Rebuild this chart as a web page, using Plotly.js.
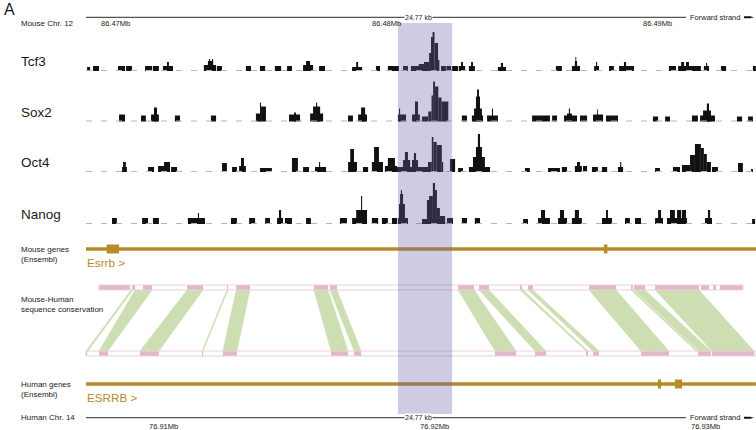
<!DOCTYPE html>
<html><head><meta charset="utf-8">
<script src="https://cdn.plot.ly/plotly-3.0.1.min.js"></script>
<style>html,body{margin:0;padding:0;background:#fff}#chart{width:756px;height:430px}</style>
</head><body><div id="chart"></div>
<script>
// ---------------- DATA (positions in kb; mouse relative to 86.47 Mb, human relative to 76.91 Mb) -------------
const mouseTickKb = [0, 10, 20];
const mouseTickText = ['86.47Mb', '86.48Mb', '86.49Mb'];
const humanTickKb = [0, 10, 20];
const humanTickText = ['76.91Mb', '76.92Mb', '76.93Mb'];
const regionSizeText = '24.77 kb';
const trackNames = ['Tcf3', 'Sox2', 'Oct4', 'Nanog'];
const highlightKb = [11.03, 13.03];

// ChIP-seq signal segments: [start kb, end kb, height]
const tcf3 = [[-0.44,-0.33,4],[-0.22,0.00,5],[0.70,0.96,5],[1.00,1.22,5],[1.70,1.96,5],[1.99,2.21,5],[2.36,2.73,5],[2.51,2.58,9],[3.87,4.32,6],[4.02,4.21,10],[4.06,4.10,12],[4.17,4.21,12],[4.35,4.54,5],[5.42,5.61,5],[5.94,6.13,5],[6.49,6.72,5],[6.94,7.12,5],[7.53,7.90,6],[7.64,7.79,10],[8.12,8.34,5],[9.34,9.71,4],[9.49,9.56,9],[10.22,10.37,5],[10.66,11.07,5],[11.22,11.40,5],[11.51,11.99,5],[11.80,11.99,7],[11.99,12.18,9],[12.18,12.25,18],[12.25,12.34,34],[12.31,12.38,39],[12.38,12.51,28],[12.51,12.56,11],[12.62,12.80,5],[12.82,12.99,5],[13.03,13.25,5],[13.28,13.51,5],[13.36,13.43,9],[13.65,13.87,5],[13.73,13.80,9],[14.72,15.02,4],[14.83,14.91,8],[16.86,17.08,5],[17.45,17.75,5],[17.56,17.64,10],[17.58,17.61,14],[18.27,18.45,5],[18.34,18.38,9],[18.82,19.00,5],[19.19,19.74,5],[19.37,19.45,9],[21.03,21.29,5],[21.37,22.21,5],[21.48,21.59,9],[21.66,21.77,9],[22.32,22.51,5],[22.40,22.44,8],[22.95,23.14,5],[24.13,24.24,5]];
const sox2 = [[0.74,0.96,7],[1.55,1.73,6],[1.92,2.21,7],[2.03,2.14,14],[2.80,2.99,6],[4.13,4.32,6],[5.79,5.98,8],[5.98,6.16,15],[5.94,5.98,19],[7.01,7.42,7],[7.20,7.27,9],[7.79,8.27,8],[7.90,8.16,15],[8.01,8.05,19],[9.19,9.37,6],[9.56,9.89,7],[9.67,9.82,14],[11.03,11.33,7],[11.07,11.11,13],[11.55,11.84,7],[11.66,11.77,20],[11.92,12.14,5],[12.15,12.27,10],[12.27,12.33,26],[12.33,12.40,40],[12.40,12.52,35],[12.52,12.64,24],[12.64,12.89,20],[13.39,13.58,6],[13.76,14.17,6],[13.84,14.13,13],[13.91,14.06,25],[13.95,14.02,32],[14.32,14.72,6],[14.50,14.54,13],[15.98,16.64,6],[16.72,16.90,6],[17.16,17.64,6],[17.27,17.45,8],[17.34,17.38,13],[17.75,18.01,6],[18.23,18.60,7],[18.38,18.41,12],[18.71,19.15,6],[20.44,20.63,5],[20.89,21.07,5],[21.88,22.10,6],[22.18,22.73,6],[22.29,22.58,11],[22.43,22.51,18],[23.54,23.73,5],[23.95,24.13,5]];
const oct4 = [[0.85,1.03,5],[0.89,0.99,10],[1.81,2.03,5],[2.18,2.40,6],[2.40,2.62,10],[2.66,2.88,5],[4.54,4.72,9],[4.91,5.09,5],[5.17,5.42,6],[5.24,5.35,14],[5.94,6.38,4],[7.12,7.34,14],[7.53,7.75,5],[7.97,8.38,5],[8.12,8.16,10],[9.19,9.52,10],[9.27,9.41,23],[9.74,9.93,5],[10.07,10.48,10],[10.15,10.33,25],[10.55,11.00,6],[10.66,10.92,14],[11.00,11.92,5],[11.22,11.48,12],[11.29,11.40,20],[11.55,11.77,12],[11.62,11.70,19],[11.92,12.14,5],[12.14,12.28,10],[12.28,12.34,35],[12.34,12.46,30],[12.46,12.65,27],[12.65,12.70,10],[12.95,13.14,13],[13.25,13.43,4],[13.65,14.43,5],[13.80,14.24,15],[13.91,14.13,25],[13.98,14.06,38],[15.72,15.90,4],[16.57,17.01,4],[17.08,17.27,5],[17.56,17.82,6],[17.64,17.75,10],[17.86,18.01,6],[18.19,18.41,5],[18.56,18.75,5],[19.15,19.34,5],[19.23,19.27,10],[20.52,20.70,4],[21.18,21.44,5],[21.51,21.81,7],[21.81,21.99,17],[21.99,22.21,28],[22.21,22.32,24],[22.32,22.43,18],[22.43,22.58,10],[22.62,22.84,5],[23.58,23.76,9],[24.06,24.13,3]];
const nanog = [[0.48,0.66,6],[1.59,1.81,6],[1.99,2.21,6],[3.28,3.91,6],[3.65,3.69,11],[4.87,5.09,6],[5.54,5.76,6],[6.13,6.31,6],[6.57,6.79,6],[6.64,6.72,14],[6.86,7.12,6],[7.64,7.82,6],[8.89,9.15,6],[9.34,9.89,6],[9.49,9.89,14],[9.67,9.71,28],[10.07,10.30,6],[10.44,10.66,6],[10.81,11.00,6],[11.03,11.40,6],[11.07,11.29,20],[11.11,11.22,30],[11.14,11.18,34],[11.92,12.77,5],[12.10,12.25,24],[12.18,12.32,28],[12.32,12.40,41],[12.40,12.47,34],[12.47,12.58,16],[12.58,12.77,8],[12.84,13.06,6],[13.39,13.58,6],[13.87,14.06,6],[15.65,15.83,5],[16.20,16.64,6],[16.31,16.46,14],[16.94,17.27,6],[17.01,17.16,14],[17.45,17.82,6],[17.56,17.71,14],[18.56,18.93,6],[18.71,18.78,14],[19.41,19.59,6],[19.78,20.00,6],[20.52,20.81,6],[20.63,20.74,14],[20.96,21.70,6],[21.07,21.25,14],[21.33,21.48,14],[21.51,21.66,14],[22.36,22.62,6],[22.47,22.55,14],[24.10,24.21,5]];

// Genes: span [start,end] (clipped to view) and exons [start,end]
const mouseGeneSpan = [-0.48, 24.29];
const mouseExons = [[0.28, 0.74], [18.63, 18.76]];
const mouseGeneName = 'Esrrb >';
const humanGeneSpan = [-2.25, 22.47];
const humanExons = [[18.85, 18.97], [19.48, 19.74]];
const humanGeneName = 'ESRRB >';

// Conservation: aligned blocks (mouse kb, human kb)
const mouseConsSpan = [0.00, 23.76];
const humanConsSpan = [-2.25, 22.47];
const mouseConsBlocks = [[0,1.14],[1.22,1.33],[1.62,1.96],[3.25,3.84],[4.72,4.76],[5.06,5.57],[7.93,8.45],[8.52,8.78],[13.25,13.84],[14.02,14.39],[15.54,15.61],[15.83,16.01],[18.08,19.08],[19.63,19.70],[19.74,20.15],[20.52,22.14],[22.21,22.51],[22.66,22.77],[22.91,23.76]];
const humanConsBlocks = [[-2.25,-2.21],[-1.77,-1.44],[-0.26,0.44],[2.03,2.07],[2.80,3.32],[6.79,7.42],[7.64,7.90],[12.84,13.62],[14.32,14.72],[16.20,16.27],[16.46,16.68],[18.23,19.26],[20.33,20.81],[20.85,22.40]];
// links: [mouse start, mouse end, human start, human end]
const consLinks = [[1.18,1.25,-2.25,-2.18],[1.33,1.96,-1.77,-1.44],[3.25,3.84,-0.26,0.44],[4.72,4.76,2.03,2.07],[5.06,5.57,2.80,3.32],[7.93,8.45,6.79,7.42],[8.52,8.78,7.64,7.90],[13.25,13.84,12.84,13.62],[14.02,14.39,14.32,14.72],[15.54,15.65,16.20,16.27],[15.83,16.01,16.46,16.68],[18.08,19.08,18.23,19.26],[19.63,19.70,20.26,20.33],[19.74,20.15,20.37,20.81],[20.52,22.14,20.85,22.40]];

// ---------------- LAYOUT CONSTANTS -------------
const W = 756, H = 430;
const PX_PER_KB = 27.1, MOUSE_ORIGIN_PX = 99, HUMAN_ORIGIN_PX = 147;
const mouseRange = [-MOUSE_ORIGIN_PX / PX_PER_KB, (W - MOUSE_ORIGIN_PX) / PX_PER_KB];
const humanRange = [-HUMAN_ORIGIN_PX / PX_PER_KB, (W - HUMAN_ORIGIN_PX) / PX_PER_KB];
const HUMAN_SHIFT = (HUMAN_ORIGIN_PX - MOUSE_ORIGIN_PX) / PX_PER_KB;
const fy = px => 1 - px / H;   // page px -> paper fraction
const fx = px => px / W;

const BLACK = '#111111', GOLD = '#B48D2A', PINK = '#E2B6CC', PINK_LINE = '#EFCFDD', GREEN = '#CDDEB2';
const FONT = 'Liberation Sans, Arial, sans-serif';

const baselines = [71, 121.5, 172, 224];
const TRACK_H = 45;
const tracks = [tcf3, sox2, oct4, nanog];

const traces = [];
const layout = {
  width: W, height: H, margin: {l: 0, r: 0, t: 0, b: 0},
  paper_bgcolor: '#fff', plot_bgcolor: 'rgba(0,0,0,0)',
  showlegend: false, barmode: 'overlay', hovermode: false,
  xaxis: {range: mouseRange, domain: [0, 1], visible: false, fixedrange: true},
  xaxis2: {range: humanRange, domain: [0, 1], visible: false, anchor: 'y7', fixedrange: true},
  shapes: [], annotations: []
};

// signal tracks
tracks.forEach((segs, i) => {
  const yn = i + 1, yref = 'y' + (yn === 1 ? '' : yn), yk = 'yaxis' + (yn === 1 ? '' : yn);
  const b = baselines[i];
  layout[yk] = {domain: [fy(b + 1.5), fy(b - TRACK_H + 1.5)], range: [-1.5, TRACK_H - 1.5], visible: false, fixedrange: true};
  traces.push({type: 'scatter', mode: 'lines', x: [mouseRange[0] + 86 / PX_PER_KB, mouseRange[1]], y: [0.5, 0.5],
    line: {color: '#b5b5b5', width: 1, dash: '6px,9px'}, xaxis: 'x', yaxis: yref, hoverinfo: 'skip'});
  traces.push({type: 'bar', x: segs.map(s => (s[0] + s[1]) / 2), width: segs.map(s => s[1] - s[0]),
    y: segs.map(s => s[2]), base: 0, marker: {color: BLACK, line: {width: 0}}, xaxis: 'x', yaxis: yref, hoverinfo: 'skip'});
  layout.annotations.push({text: trackNames[i], xref: 'paper', yref: 'paper', x: fx(19), y: fy(b - 9.5),
    xanchor: 'left', yanchor: 'middle', showarrow: false, font: {family: FONT, size: 13.5, color: '#1a1a1a'}});
});

// gene tracks
function geneTrack(yn, xref, centerPx, span, exons) {
  const yk = 'yaxis' + yn;
  layout[yk] = {domain: [fy(centerPx + 9), fy(centerPx - 9)], range: [-9, 9], visible: false, fixedrange: true, anchor: xref};
  traces.push({type: 'scatter', mode: 'lines', x: span, y: [0, 0], line: {color: GOLD, width: 3.5},
    xaxis: xref, yaxis: 'y' + yn, hoverinfo: 'skip'});
  traces.push({type: 'bar', x: exons.map(e => (e[0] + e[1]) / 2), width: exons.map(e => e[1] - e[0]),
    y: exons.map(() => 9), base: -4.5, marker: {color: GOLD, line: {width: 0}}, xaxis: xref, yaxis: 'y' + yn, hoverinfo: 'skip'});
}
geneTrack(5, 'x', 249, mouseGeneSpan, mouseExons);
geneTrack(7, 'x2', 384, humanGeneSpan, humanExons);

// conservation track (y6): top row = mouse, bottom row = human
const TOP = [0.907, 0.973], BOT = [0.027, 0.093];
layout.yaxis6 = {domain: [fy(358), fy(283)], range: [0, 1], visible: false, fixedrange: true};
const gx = [], gy = [];
consLinks.forEach(l => {
  gx.push(l[0], l[1], l[3] + HUMAN_SHIFT, l[2] + HUMAN_SHIFT, l[0], null);
  gy.push(TOP[0], TOP[0], BOT[1], BOT[1], TOP[0], null);
});
traces.push({type: 'scatter', mode: 'lines', x: gx, y: gy, fill: 'toself', fillcolor: GREEN,
  line: {color: GREEN, width: 0.5}, xaxis: 'x', yaxis: 'y6', hoverinfo: 'skip'});
function rowOutline(span, row, shift) {
  traces.push({type: 'scatter', mode: 'lines',
    x: [span[0] + shift, span[1] + shift, span[1] + shift, span[0] + shift, span[0] + shift],
    y: [row[0], row[0], row[1], row[1], row[0]], line: {color: PINK_LINE, width: 1}, xaxis: 'x', yaxis: 'y6', hoverinfo: 'skip'});
}
rowOutline(mouseConsSpan, TOP, 0);
rowOutline(humanConsSpan, BOT, HUMAN_SHIFT);
function rowBlocks(blocks, row, shift) {
  traces.push({type: 'bar', x: blocks.map(b => (b[0] + b[1]) / 2 + shift), width: blocks.map(b => b[1] - b[0]),
    y: blocks.map(() => row[1] - row[0]), base: row[0], marker: {color: PINK, line: {width: 0}},
    xaxis: 'x', yaxis: 'y6', hoverinfo: 'skip'});
}
rowBlocks(mouseConsBlocks, TOP, 0);
rowBlocks(humanConsBlocks, BOT, HUMAN_SHIFT);

// highlight
layout.shapes.push({type: 'rect', layer: 'above', xref: 'x', yref: 'paper', x0: highlightKb[0], x1: highlightKb[1],
  y0: fy(414), y1: fy(23), fillcolor: 'rgba(108,98,168,0.33)', line: {width: 0}});

// scale bars
function scaleBar(ypx) {
  layout.shapes.push({type: 'line', xref: 'paper', yref: 'paper', x0: fx(86), x1: fx(686), y0: fy(ypx), y1: fy(ypx),
    line: {color: '#555', width: 1.3}});
  layout.shapes.push({type: 'path', xref: 'paper', yref: 'paper',
    path: `M ${fx(744)} ${fy(ypx - 1)} L ${fx(750)} ${fy(ypx - 1)} L ${fx(754)} ${fy(ypx)} L ${fx(750)} ${fy(ypx + 1)} L ${fx(744)} ${fy(ypx + 1)} Z`,
    fillcolor: '#111', line: {width: 0}});
  layout.annotations.push({text: regionSizeText, xref: 'paper', yref: 'paper', x: fx(418), y: fy(ypx),
    xanchor: 'center', yanchor: 'middle', showarrow: false, bgcolor: '#fff', borderpad: 0,
    font: {family: FONT, size: 7, color: '#222'}});
  layout.annotations.push({text: 'Forward strand', xref: 'paper', yref: 'paper', x: fx(688), y: fy(ypx),
    xanchor: 'left', yanchor: 'middle', showarrow: false, font: {family: FONT, size: 7.5, color: '#222'}});
}
scaleBar(17.3);
scaleBar(417.7);

mouseTickKb.forEach((k, i) => layout.annotations.push({text: mouseTickText[i], xref: 'x', yref: 'paper', x: k, y: fy(23.5),
  xanchor: 'left', yanchor: 'middle', xshift: 0, showarrow: false, font: {family: FONT, size: 7.5, color: '#222'}}));
humanTickKb.forEach((k, i) => layout.annotations.push({text: humanTickText[i], xref: 'x2', yref: 'paper', x: k, y: fy(426),
  xanchor: 'left', yanchor: 'middle', showarrow: false, font: {family: FONT, size: 7.5, color: '#222'}}));

// left labels
const labels = [
  ['A', 2, 9.5, 16], ['Mouse Chr. 12', 19, 23.5, 8], ['Mouse genes', 19, 249, 8], ['(Ensembl)', 19, 259, 8],
  ['Mouse-Human', 19, 299.5, 8], ['sequence conservation', 19, 309.5, 8],
  ['Human genes', 19, 384, 8], ['(Ensembl)', 19, 394, 8], ['Human Chr. 14', 19, 417.5, 8]
];
labels.forEach(l => layout.annotations.push({text: l[0], xref: 'paper', yref: 'paper', x: fx(l[1]), y: fy(l[2]),
  xanchor: 'left', yanchor: 'middle', showarrow: false, font: {family: FONT, size: l[3], color: '#1a1a1a'}}));
layout.annotations.push({text: mouseGeneName, xref: 'paper', yref: 'paper', x: fx(85), y: fy(262.5), xanchor: 'left', yanchor: 'middle',
  showarrow: false, font: {family: FONT, size: 11.7, color: GOLD}});
layout.annotations.push({text: humanGeneName, xref: 'paper', yref: 'paper', x: fx(85), y: fy(397), xanchor: 'left', yanchor: 'middle',
  showarrow: false, font: {family: FONT, size: 11.7, color: GOLD}});

Plotly.newPlot('chart', traces, layout, {staticPlot: true, displayModeBar: false});
</script></body></html>
